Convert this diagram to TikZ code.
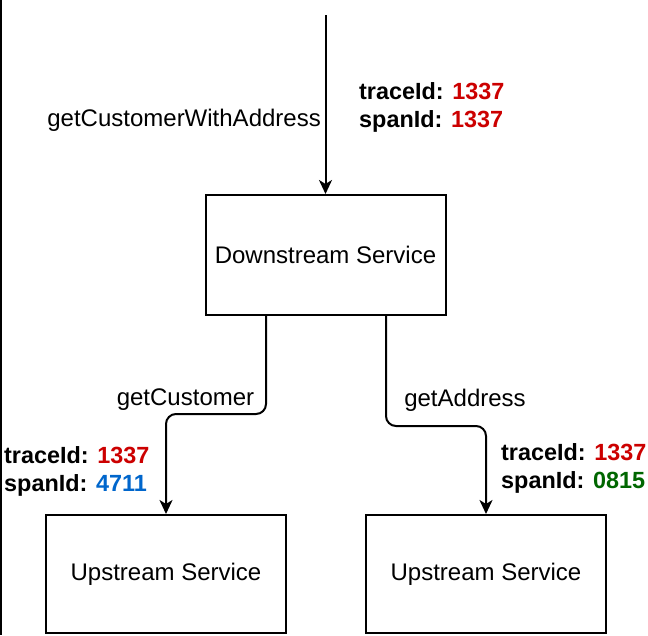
\documentclass[tikz,border=0pt]{standalone}
\usepackage{fontspec}
\setmainfont{Liberation Sans}
\usepackage{tikz}
\usetikzlibrary{arrows.meta, positioning}

\definecolor{idred}{HTML}{CC0000}
\definecolor{idblue}{HTML}{0066CC}
\definecolor{idgreen}{HTML}{006600}

\begin{document}
\begin{tikzpicture}[x=1pt, y=-1pt,
    service/.style={draw, line width=2pt, minimum width=240pt, minimum height=118pt,
      font=\fontsize{24}{28}\selectfont},
    call/.style={line width=2pt, rounded corners=10pt,
      -{Stealth[length=14pt, width=13pt, inset=4pt]}},
    calllabel/.style={font=\fontsize{24}{28}\selectfont, inner sep=0pt},
    ids/.style={font=\fontsize{23.4}{28}\selectfont\bfseries, align=left, inner sep=0pt, anchor=west}]
    \useasboundingbox (0,0) rectangle (648,635);

    % left page edge
    \draw[line width=1.5pt] (0.75,0) -- (0.75,635);

    % services
    \node[service, minimum height=120pt] (down) at (325.5,255) {Downstream Service};
    \node[service] (upleft) at (166,574) {Upstream Service};
    \node[service] (upright) at (486,574) {Upstream Service};

    % incoming call
    \coordinate (in) at (325.5,15);
    \draw[call] (in) -- (down.north);
    \node[calllabel, anchor=east] (lblin) at (321,120) {getCustomerWithAddress};
    \node[ids] (idsin) at (359,107) {traceId: \textcolor{idred}{1337}\\spanId: \textcolor{idred}{1337}};

    % outgoing calls
    \draw[call] ([xshift=-59.5pt]down.south) -- ++(0,98) -| (upleft.north);
    \draw[call] ([xshift=60.5pt]down.south) -- ++(0,110) -| (upright.north);
    \node[calllabel] (lblcust) at (185.5,400) {getCustomer};
    \node[calllabel] (lbladdr) at (465,400) {getAddress};
    \node[ids] (idscust) at (4,471) {traceId: \textcolor{idred}{1337}\\spanId: \textcolor{idblue}{4711}};
    \node[ids] (idsaddr) at (501,468) {traceId: \textcolor{idred}{1337}\\spanId: \textcolor{idgreen}{0815}};
\end{tikzpicture}
\end{document}
